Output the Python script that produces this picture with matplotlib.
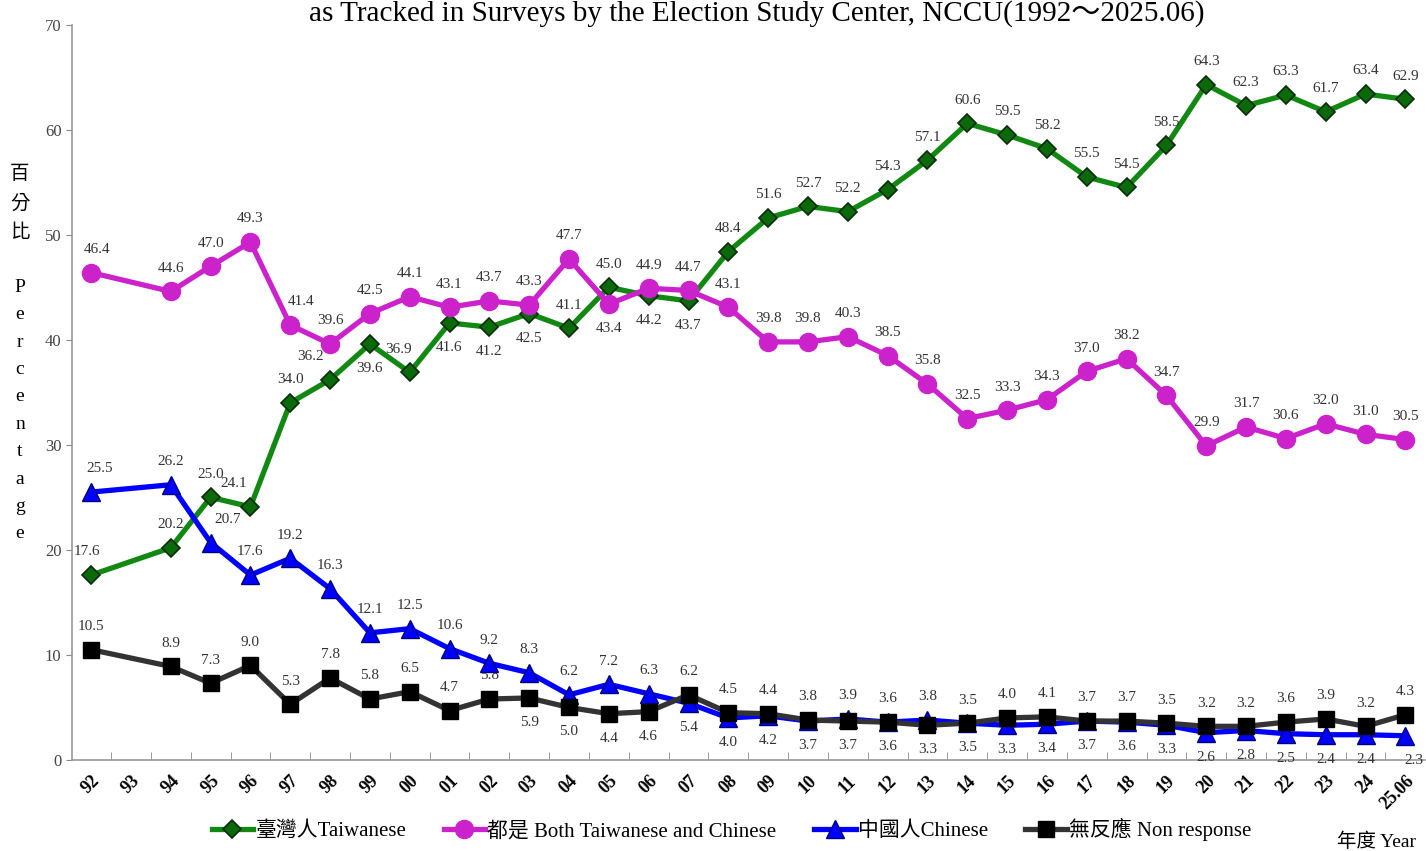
import numpy as np
import matplotlib.pyplot as plt
from matplotlib.ticker import FixedLocator

plt.rcParams['font.family'] = ['Liberation Serif', 'Noto Sans CJK TC', 'DejaVu Sans']

# ------------------------- data -------------------------
categories = ['92', '93', '94', '95', '96', '97', '98', '99', '00', '01', '02', '03', '04',
              '05', '06', '07', '08', '09', '10', '11', '12', '13', '14', '15', '16', '17',
              '18', '19', '20', '21', '22', '23', '24', '25.06']
# 1993 has no survey
data_years = [c for c in categories if c != '93']

taiwanese = [17.6, 20.2, 25.0, 24.1, 34.0, 36.2, 39.6, 36.9, 41.6, 41.2, 42.5, 41.1, 45.0,
             44.2, 43.7, 48.4, 51.6, 52.7, 52.2, 54.3, 57.1, 60.6, 59.5, 58.2, 55.5, 54.5,
             58.5, 64.3, 62.3, 63.3, 61.7, 63.4, 62.9]
both = [46.4, 44.6, 47.0, 49.3, 41.4, 39.6, 42.5, 44.1, 43.1, 43.7, 43.3, 47.7, 43.4,
        44.9, 44.7, 43.1, 39.8, 39.8, 40.3, 38.5, 35.8, 32.5, 33.3, 34.3, 37.0, 38.2,
        34.7, 29.9, 31.7, 30.6, 32.0, 31.0, 30.5]
chinese = [25.5, 26.2, 20.7, 17.6, 19.2, 16.3, 12.1, 12.5, 10.6, 9.2, 8.3, 6.2, 7.2,
           6.3, 5.4, 4.0, 4.2, 3.7, 3.9, 3.6, 3.8, 3.5, 3.3, 3.4, 3.7, 3.6,
           3.3, 2.6, 2.8, 2.5, 2.4, 2.4, 2.3]
non_response = [10.5, 8.9, 7.3, 9.0, 5.3, 7.8, 5.8, 6.5, 4.7, 5.8, 5.9, 5.0, 4.4,
                4.6, 6.2, 4.5, 4.4, 3.8, 3.7, 3.6, 3.3, 3.5, 4.0, 4.1, 3.7, 3.7,
                3.5, 3.2, 3.2, 3.6, 3.9, 3.2, 4.3]

series_names = ['臺灣人Taiwanese', '都是 Both Taiwanese and Chinese', '中國人Chinese', '無反應 Non response']

# where the value label sits under the marker instead of over it
below = {
    0: {'99', '01', '02', '03', '06', '07'},
    1: {'05'},
    2: {'07', '08', '09', '10', '12', '14', '15', '16', '17', '18', '19', '20', '21', '22',
        '23', '24', '25.06'},
    3: {'03', '04', '05', '06', '11', '13'},
}
# a few labels nudged sideways (points)
nudge = {(0, '98'): -14, (0, '96'): -12, (0, '92'): -3, (0, '00'): -8,
         (1, '97'): 8, (1, '92'): 4, (2, '92'): 6, (2, '95'): 12, (2, '25.06'): 6}

# ------------------------- plot -------------------------
fig = plt.figure(figsize=(14.26, 8.51), dpi=100)
ax = fig.add_axes([0.0505, 0.107, 0.949, 0.864])

x = np.array([categories.index(c) for c in data_years])

styles = [
    dict(color='#118811', marker='D', ms=9, mfc='#0a6a0a', mec='#0b2b0b', mew=1.2),
    dict(color='#cc22cc', marker='o', ms=13, mfc='#cc22cc', mec='#cc22cc'),
    dict(color='#0000ff', marker='^', ms=13, mfc='#0000ff', mec='#00007a', mew=1.0),
    dict(color='#333333', marker='s', ms=12, mfc='black', mec='black'),
]
all_series = [taiwanese, both, chinese, non_response]

for i, (vals, st, name) in enumerate(zip(all_series, styles, series_names)):
    ax.plot(x, vals, lw=3.8, label=name, zorder=3 + i * 0.1, **st)
    for xi, yr, v in zip(x, data_years, vals):
        dx = nudge.get((i, yr), 0)
        if yr in below[i]:
            ax.annotate(f'{v:.1f}', (xi, v), xytext=(dx, -13), textcoords='offset points',
                        ha='center', va='top', fontsize=11, color='#333333')
        else:
            ax.annotate(f'{v:.1f}', (xi, v), xytext=(dx, 12), textcoords='offset points',
                        ha='center', va='bottom', fontsize=11, color='#333333')

ax.set_xlim(-0.48, len(categories) - 0.5)
ax.set_ylim(0, 70)
ax.set_yticks(range(0, 71, 10))
ax.tick_params(axis='y', labelsize=12, labelcolor='#444444', color='#888888', length=4)

ax.set_xticks(range(len(categories)))
ax.set_xticklabels(categories, rotation=45, ha='right', rotation_mode='anchor',
                   fontsize=13, fontweight='bold')
ax.tick_params(axis='x', length=0, pad=9)
ax.xaxis.set_minor_locator(FixedLocator(np.arange(0.5, len(categories) - 0.5, 1)))
ax.tick_params(axis='x', which='minor', direction='in', length=6, color='#888888')

for side in ['top', 'right']:
    ax.spines[side].set_visible(False)
for side in ['left', 'bottom']:
    ax.spines[side].set_color('#999999')
    ax.spines[side].set_linewidth(1.2)

fig.text(0.531, 0.984, 'as Tracked in Surveys by the Election Study Center, NCCU(1992～2025.06)',
         ha='center', va='center', fontsize=21)

fig.text(0.014, 0.805, '百\n分\n比\n\nP\ne\nr\nc\ne\nn\nt\na\ng\ne', ha='center', va='top',
         fontsize=14, linespacing=1.8)

fig.text(0.965, 0.0, '年度 Year', ha='center', va='bottom', fontsize=14)

fig.legend(loc='center', bbox_to_anchor=(0.513, 0.025), ncol=4, frameon=False,
           fontsize=15, handlelength=2.0, columnspacing=1.8, handletextpad=0.1)

fig.savefig('out.png', dpi=100)
